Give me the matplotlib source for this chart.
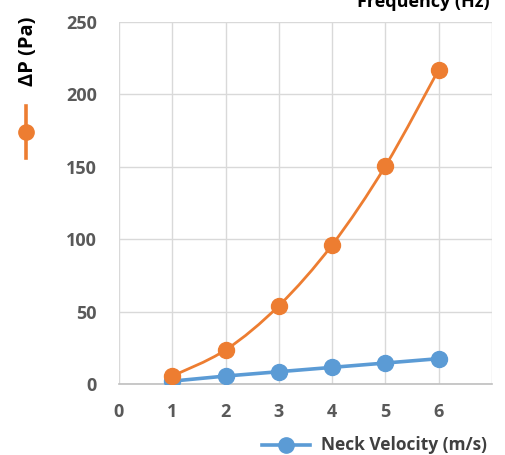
import numpy as np
import matplotlib
matplotlib.use('Agg')
import matplotlib.pyplot as plt
from matplotlib.path import Path
from matplotlib.patches import PathPatch
from matplotlib.lines import Line2D

plt.rcParams['font.family'] = ['Open Sans', 'DejaVu Sans']

## data ##
freq = [1, 2, 3, 4, 5, 6]
dp = [5.5, 23.5, 54, 96, 150.5, 217]       # Delta P (Pa)
neck_vel = [2, 5.5, 8.5, 11.5, 14.5, 17.5]  # neck velocity (m/s)
xticks = [0, 1, 2, 3, 4, 5, 6]
yticks = [0, 50, 100, 150, 200, 250]

orange = '#ED7D31'
blue = '#5B9BD5'
gray = '#595959'


def smooth_path(x, y):
    # catmull-rom style bezier through the points (like excel smoothed line)
    pts = np.column_stack([x, y]).astype(float)
    ext = np.vstack([pts[0], pts, pts[-1]])
    verts = [pts[0]]
    codes = [Path.MOVETO]
    for i in range(1, len(ext) - 2):
        p0, p1, p2, p3 = ext[i - 1], ext[i], ext[i + 1], ext[i + 2]
        verts += [p1 + (p2 - p0) / 6, p2 - (p3 - p1) / 6, p2]
        codes += [Path.CURVE4] * 3
    return Path(verts, codes)


fig = plt.figure(figsize=(5.05, 4.55), dpi=100)
ax = fig.add_axes([0.2356, 0.156, 0.7384, 0.7956])

ax.add_patch(PathPatch(smooth_path(freq, dp), fill=False, ec=orange, lw=2, zorder=3))
ax.plot(freq, dp, ls='none', marker='o', ms=11.5, color=orange, zorder=4)
ax.plot(freq, neck_vel, color=blue, lw=2.6, marker='o', ms=11.5, zorder=3)

ax.set_xlim(0, 7)
ax.set_ylim(0, 250)
ax.set_xticks(xticks + [7])
ax.set_xticklabels([str(t) for t in xticks] + [''])
ax.set_yticks(yticks)
ax.tick_params(length=0, labelsize=13, labelcolor=gray)
ax.tick_params(axis='y', pad=16)
ax.tick_params(axis='x', pad=14)
for lab in ax.get_xticklabels() + ax.get_yticklabels():
    lab.set_fontweight('bold')
ax.grid(color='#D9D9D9', lw=1)
ax.set_axisbelow(True)
for s in ['top', 'right', 'left']:
    ax.spines[s].set_visible(False)
ax.spines['bottom'].set_color('#BFBFBF')
ax.spines['bottom'].set_linewidth(1.2)

# left legend (rotated)
fig.text(28 / 505, 1 - 51 / 455, '\u0394P (Pa)', rotation=90, ha='center', va='center',
         fontsize=14.5, fontweight='bold', color='black')
fig.add_artist(Line2D([26 / 505, 26 / 505], [1 - 106 / 455, 1 - 158 / 455], color=orange, lw=2.6))
fig.add_artist(Line2D([26 / 505], [1 - 132 / 455], color=orange, marker='o', ms=11))

# bottom legend
fig.add_artist(Line2D([262 / 505, 310 / 505], [1 - 445 / 455, 1 - 445 / 455], color=blue, lw=2.6))
fig.add_artist(Line2D([286 / 505], [1 - 445 / 455], color=blue, marker='o', ms=11))
fig.text(321 / 505, 1 - 445 / 455, 'Neck Velocity (m/s)', ha='left', va='center',
         fontsize=12.5, fontweight='bold', color='#404040')

# title (cut off at top)
fig.text(490 / 505, 1 - 2 / 455, 'Frequency (Hz)', ha='right', va='center',
         fontsize=13, fontweight='bold', color='black')

fig.savefig('out.png', dpi=100)
